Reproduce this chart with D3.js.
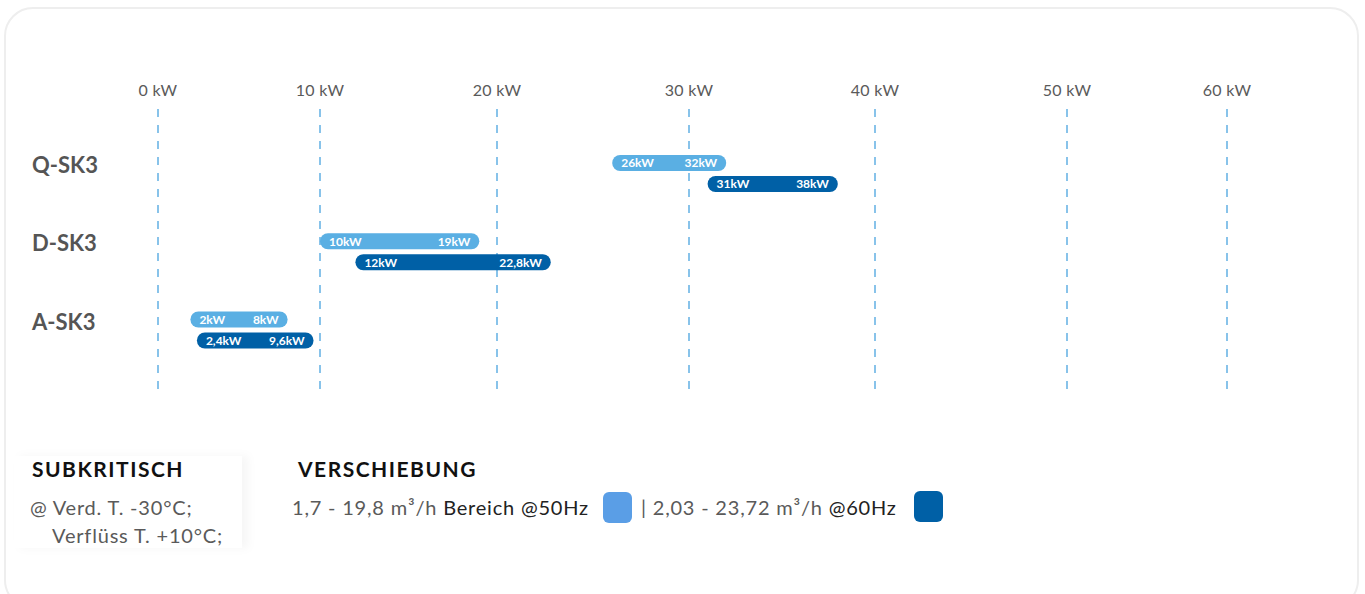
<!DOCTYPE html>
<html><head>
<meta charset="utf-8">
<title>SK3 Leistungsbereiche</title>
<script src="https://cdn.jsdelivr.net/npm/d3@7/dist/d3.min.js"></script>
<style>
  body { margin: 0; background: #fff; font-family: Lato, "Noto Sans", sans-serif; }
  .tick-label { fill: #5a5a5a; font-size: 16px; letter-spacing: 0.3px; }
  .grid-line { stroke: #62b0e4; stroke-width: 1.5; stroke-dasharray: 8 8; }
  .row-label { fill: #555; font-size: 22px; font-weight: 700; }
  .bar-label { fill: #fff; font-size: 12px; font-weight: 700; }
  .legend-title { fill: #111; font-size: 21px; font-weight: 700; letter-spacing: 1.5px; }
  .legend-grey { fill: #5a5a5a; font-size: 20px; letter-spacing: 0.8px; }
  .legend-black { fill: #222; font-size: 20px; letter-spacing: 0.8px; }
</style>
</head>
<body>
<svg id="chart" width="1365" height="594"></svg>

<script>
// data
var ticks = [0, 10, 20, 30, 40, 50, 60]
var models = ["Q-SK3", "D-SK3", "A-SK3"]
var lo50 = [26, 10, 2]
var hi50 = [32, 19, 8]
var lo60 = [31, 12, 2.4]
var hi60 = [38, 22.8, 9.6]
var lbl50 = [["26kW", "32kW"], ["10kW", "19kW"], ["2kW", "8kW"]]
var lbl60 = [["31kW", "38kW"], ["12kW", "22,8kW"], ["2,4kW", "9,6kW"]]

var col50 = "#5aafe3"
var col60 = "#0060a6"

var svg = d3.select("#chart")

// card
svg.append("rect")
  .attr("x", 5).attr("y", 8).attr("width", 1353).attr("height", 600)
  .attr("rx", 28)
  .attr("fill", "#fff").attr("stroke", "#eeeeee").attr("stroke-width", 2)

// columns of the source layout are not evenly spaced
var x = d3.scaleLinear()
  .domain(ticks)
  .range([158, 320, 497, 689, 875, 1067, 1227])

var y = d3.scalePoint()
  .domain(models)
  .range([173.5, 330])

var barH = 16

// gridlines
svg.append("g").selectAll("line")
  .data(ticks).join("line")
  .classed("grid-line", true)
  .attr("x1", d => x(d)).attr("x2", d => x(d))
  .attr("y1", 109).attr("y2", 394)

svg.append("g").selectAll("text")
  .data(ticks).join("text")
  .classed("tick-label", true)
  .attr("x", d => x(d)).attr("y", 96)
  .attr("text-anchor", "middle")
  .text(d => d + " kW")

// row labels
svg.append("g").selectAll("text")
  .data(models).join("text")
  .classed("row-label", true)
  .attr("x", 32).attr("y", d => y(d) - 8)
  .attr("dy", "0.35em")
  .text(d => d)

function drawBars(lo, hi, lbl, colour, off) {
  var g = svg.append("g")
  var rows = models.map(function(m, i) {
    return { m: m, lo: lo[i], hi: hi[i], l: lbl[i][0], r: lbl[i][1] }
  })
  g.selectAll("rect").data(rows).join("rect")
    .attr("x", d => x(d.lo))
    .attr("y", d => y(d.m) + off - barH / 2)
    .attr("width", d => x(d.hi) - x(d.lo))
    .attr("height", barH)
    .attr("rx", barH / 2)
    .attr("fill", colour)
  g.selectAll("text.l").data(rows).join("text")
    .attr("class", "bar-label l")
    .attr("x", d => x(d.lo) + 9)
    .attr("y", d => y(d.m) + off)
    .attr("dy", "0.36em")
    .text(d => d.l)
  g.selectAll("text.r").data(rows).join("text")
    .attr("class", "bar-label r")
    .attr("x", d => x(d.hi) - 9)
    .attr("y", d => y(d.m) + off)
    .attr("dy", "0.36em")
    .attr("text-anchor", "end")
    .text(d => d.r)
}

drawBars(lo50, hi50, lbl50, col50, -10.5)
drawBars(lo60, hi60, lbl60, col60, 10.5)

// legend
var defs = svg.append("defs")
defs.append("filter").attr("id", "soft")
  .attr("x", "-20%").attr("y", "-20%").attr("width", "140%").attr("height", "140%")
  .append("feDropShadow")
  .attr("dx", 6).attr("dy", 0).attr("stdDeviation", 4)
  .attr("flood-color", "#000").attr("flood-opacity", 0.035)

svg.append("rect")
  .attr("x", 14).attr("y", 456).attr("width", 228).attr("height", 92)
  .attr("fill", "#fff").attr("filter", "url(#soft)")

svg.append("text").classed("legend-title", true)
  .attr("x", 32).attr("y", 477).text("SUBKRITISCH")
svg.append("text").classed("legend-grey", true)
  .attr("x", 30).attr("y", 515).text("@ Verd. T. -30°C;")
svg.append("text").classed("legend-grey", true)
  .attr("x", 223).attr("y", 543).attr("text-anchor", "end").text("Verflüss T. +10°C;")

svg.append("text").classed("legend-title", true)
  .attr("x", 298).attr("y", 477).text("VERSCHIEBUNG")

var t1 = svg.append("text").attr("x", 292).attr("y", 515)
t1.append("tspan").classed("legend-grey", true).text("1,7 - 19,8 m³/h ")
t1.append("tspan").classed("legend-black", true).text("Bereich @50Hz")

svg.append("rect")
  .attr("x", 603).attr("y", 492).attr("width", 29).attr("height", 31)
  .attr("rx", 6).attr("fill", "#5a9ee6")

var t2 = svg.append("text").attr("x", 641).attr("y", 515)
t2.append("tspan").classed("legend-grey", true).text("| 2,03 - 23,72 m³/h ")
t2.append("tspan").classed("legend-black", true).text("@60Hz")

svg.append("rect")
  .attr("x", 914).attr("y", 491).attr("width", 29).attr("height", 31)
  .attr("rx", 6).attr("fill", col60)
</script>
</body>
</html>
